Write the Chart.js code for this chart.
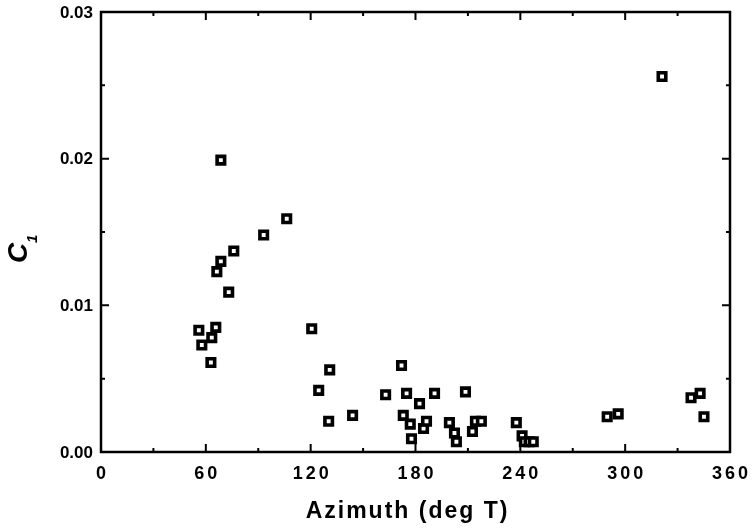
<!DOCTYPE html>
<html><head><meta charset="utf-8">
<script src="https://cdn.jsdelivr.net/npm/chart.js@4"></script>
<style>html,body{margin:0;padding:0;background:#fff}#wrap{width:752px;height:531px}</style>
</head><body><div id="wrap"><canvas id="c" width="752" height="531"></canvas></div>
<script>
const azimuth = [68.6,106.3,93.1,76.0,68.6,66.3,73.1,56.0,65.7,63.4,57.7,62.9,120.6,130.9,124.6,130.3,144.0,162.9,172.0,174.9,173.0,177.0,177.7,182.3,184.6,186.3,190.9,199.4,202.3,203.4,208.6,212.6,214.3,217.7,237.7,241.0,242.3,245.0,247.4,289.7,296.0,321.1,337.7,342.9,345.1];
const c1 = [0.0199,0.0159,0.0148,0.0137,0.0130,0.0123,0.0109,0.0083,0.0085,0.0078,0.0073,0.0061,0.0084,0.0056,0.0042,0.0021,0.0025,0.0039,0.0059,0.0040,0.0025,0.0019,0.0009,0.0033,0.0016,0.0021,0.0040,0.0020,0.0013,0.0007,0.0041,0.0014,0.0021,0.0021,0.0020,0.0011,0.0007,0.0007,0.0007,0.0024,0.0026,0.0256,0.0037,0.0040,0.0024];
const xTicks = [0,60,120,180,240,300,360];
const yTicks = [0.00,0.01,0.02,0.03];
const xTitle = 'Azimuth (deg T)';
const yTitle = 'C';
const yTitleSub = '1';

const FONT = '"Liberation Sans", Arial, sans-serif';
const pts = azimuth.map((a,i)=>({x:a,y:c1[i]}));

const framePlugin = {
  id:'frame',
  afterDraw(chart){
    const ctx = chart.ctx, a = chart.chartArea, xs = chart.scales.x, ys = chart.scales.y;
    ctx.save();
    ctx.strokeStyle = '#000'; ctx.lineWidth = 2.5;
    ctx.strokeRect(a.left, a.top, a.right-a.left, a.bottom-a.top);
    ctx.lineWidth = 2;
    for(let v=0; v<=360; v+=30){
      const p = xs.getPixelForValue(v), L = (v%60===0)?8:4;
      ctx.beginPath(); ctx.moveTo(p,a.bottom); ctx.lineTo(p,a.bottom-L);
      ctx.moveTo(p,a.top); ctx.lineTo(p,a.top+L); ctx.stroke();
    }
    for(let k=0; k<=6; k++){
      const v = k*0.005, p = ys.getPixelForValue(v), L = (k%2===0)?8:4;
      ctx.beginPath(); ctx.moveTo(a.left,p); ctx.lineTo(a.left+L,p);
      ctx.moveTo(a.right,p); ctx.lineTo(a.right-L,p); ctx.stroke();
    }
    ctx.fillStyle = '#000';
    ctx.font = 'bold 17px ' + FONT;
    ctx.textAlign = 'right'; ctx.textBaseline = 'middle';
    yTicks.forEach(v=>{ ctx.fillText(v.toFixed(2), a.left-8, ys.getPixelForValue(v)+1); });
    ctx.font = 'bold 18px ' + FONT;
    ctx.letterSpacing = '3px';
    ctx.textAlign = 'center';
    xTicks.forEach(v=>{ ctx.fillText(String(v), xs.getPixelForValue(v)+1.5, a.bottom+22); });
    ctx.font = 'bold 23px ' + FONT;
    ctx.letterSpacing = '2px';
    ctx.fillText(xTitle, (a.left+a.right)/2 - 8, a.bottom+60);
    ctx.letterSpacing = '0px';
    ctx.translate(27, 251);
    ctx.rotate(-Math.PI/2);
    ctx.textBaseline = 'alphabetic';
    ctx.textAlign = 'left';
    ctx.font = 'italic bold 28px ' + FONT;
    ctx.fillText(yTitle, -12, 0);
    ctx.font = 'italic bold 15px ' + FONT;
    ctx.fillText(yTitleSub, 8, 10);
    ctx.restore();
  }
};

new Chart(document.getElementById('c'), {
  type:'scatter',
  data:{datasets:[{data:pts, pointStyle:'rect', radius:5.3, hoverRadius:5.3, borderWidth:3.6, borderColor:'#000', backgroundColor:'#fff'}]},
  options:{
    responsive:false, animation:false, devicePixelRatio:1,
    layout:{padding:{top:12,right:22,left:0,bottom:0}},
    plugins:{legend:{display:false},tooltip:{enabled:false}},
    scales:{
      x:{type:'linear',min:0,max:360,
        grid:{display:false,drawTicks:false}, border:{display:false},
        ticks:{display:false, stepSize:60},
        afterFit(s){ s.height = 79; }
      },
      y:{type:'linear',min:0,max:0.03,
        grid:{display:false,drawTicks:false}, border:{display:false},
        ticks:{display:false, stepSize:0.01},
        afterFit(s){ s.width = 101; }
      }
    }
  },
  plugins:[framePlugin]
});
</script></body></html>
